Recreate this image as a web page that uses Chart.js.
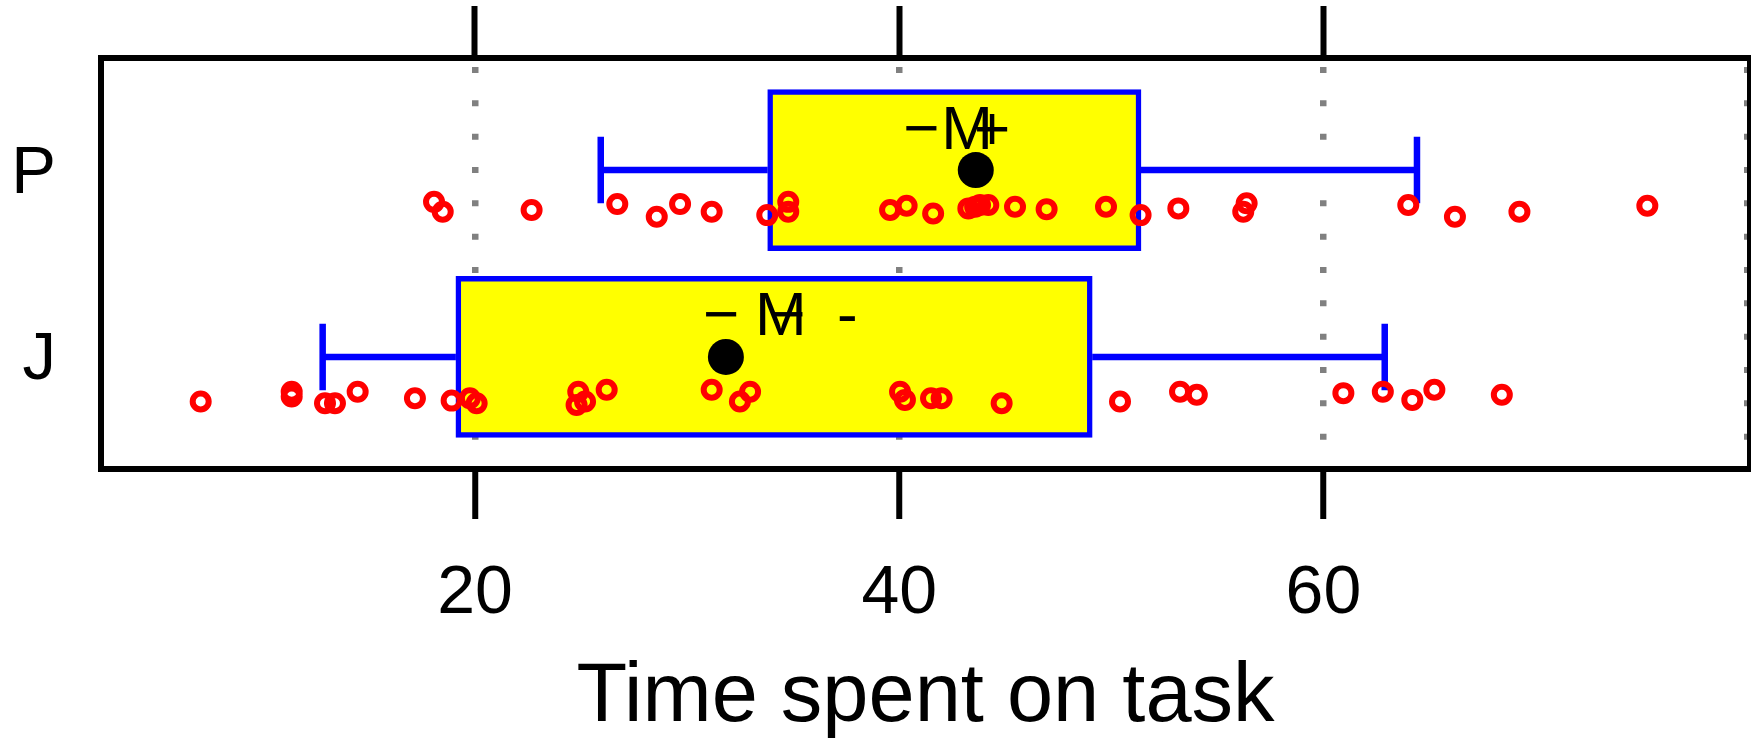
<!DOCTYPE html>
<html>
<head>
<meta charset="utf-8">
<script src="https://cdn.jsdelivr.net/npm/chart.js@4.4.0/dist/chart.umd.min.js"></script>
<style>
  html, body { margin: 0; padding: 0; background: #fff; }
</style>
</head>
<body>
<canvas id="timeBox" width="1751" height="744"></canvas>
<script>
// groups on the y axis: J = 1, P = 2
const groupNames = ['J', 'P'];
const groupPos = [1, 2];
const whiskLow = [12.82, 25.93];
const q1 = [19.1, 33.8];
const q3 = [49.1, 51.4];
const whiskHigh = [62.89, 64.41];
const means = [31.83, 43.61];

// raw observations (x = time, y = jittered row position)
const timesJ = [7.07, 11.36, 11.36, 12.93, 13.4, 14.47, 17.17, 18.9, 19.76, 20.08,
  24.87, 24.79, 25.19, 26.21, 31.16, 32.97, 32.49, 40.04, 40.27, 41.5,
  42.0, 44.83, 50.41, 53.24, 54.03, 60.94, 62.8, 64.19, 65.23, 68.41];
const jitterJ = [0.761, 0.814, 0.788, 0.752, 0.752, 0.814, 0.779, 0.766, 0.779, 0.752,
  0.814, 0.743, 0.761, 0.824, 0.824, 0.814, 0.761, 0.814, 0.770, 0.779,
  0.779, 0.752, 0.761, 0.814, 0.797, 0.806, 0.814, 0.770, 0.824, 0.797];
const timesP = [18.07, 18.48, 22.67, 26.71, 28.57, 29.67, 31.16, 33.78, 34.77, 34.77,
  39.57, 40.35, 41.6, 43.26, 43.58, 43.81, 44.2, 45.46, 46.95, 49.75,
  51.38, 53.16, 56.38, 56.22, 64.0, 66.2, 69.24, 75.27];
const jitterP = [1.830, 1.777, 1.786, 1.818, 1.750, 1.818, 1.777, 1.759, 1.830, 1.777,
  1.786, 1.809, 1.768, 1.795, 1.804, 1.813, 1.813, 1.804, 1.791, 1.804,
  1.759, 1.795, 1.822, 1.777, 1.813, 1.750, 1.777, 1.809];

// the "-M+" marks above each box
const marksJ = ['\u2212', 'M', '\u2212', '-'];
const marksJx = [31.6, 34.42, 34.73, 37.56];
const marksP = ['\u2212', 'M', '+'];
const marksPx = [41.05, 43.2, 44.38];

const xTicks = [20, 40, 60, 80];
const topTicks = [20, 40, 60];

const FONT = '"Liberation Sans", Arial, sans-serif';
const capHalf = 0.178;
const markLift = 0.207;

// whisker segments, null points break the line
const whiskerData = [];
groupPos.forEach((g, i) => {
  whiskerData.push({x: whiskLow[i], y: g}, {x: q1[i], y: g}, {x: null, y: null});
  whiskerData.push({x: q3[i], y: g}, {x: whiskHigh[i], y: g}, {x: null, y: null});
  whiskerData.push({x: whiskLow[i], y: g - capHalf}, {x: whiskLow[i], y: g + capHalf}, {x: null, y: null});
  whiskerData.push({x: whiskHigh[i], y: g - capHalf}, {x: whiskHigh[i], y: g + capHalf}, {x: null, y: null});
});

// fixed axis sizes, and no extra label padding around the plot
function fixSize(size, isWidth) {
  return ax => {
    if (isWidth) ax.width = size; else ax.height = size;
    ax.paddingLeft = ax.paddingRight = ax.paddingTop = ax.paddingBottom = 0;
  };
}

const extras = {
  id: 'extras',
  afterDatasetsDraw(chart) {
    const {ctx, chartArea: a, scales: {x, y}} = chart;
    ctx.save();
    ctx.fillStyle = '#000';
    ctx.font = '62px ' + FONT;
    ctx.textAlign = 'center';
    ctx.textBaseline = 'middle';
    marksJ.forEach((t, i) => ctx.fillText(t, x.getPixelForValue(marksJx[i]), y.getPixelForValue(1 + markLift)));
    marksP.forEach((t, i) => ctx.fillText(t, x.getPixelForValue(marksPx[i]), y.getPixelForValue(2 + markLift)));
    ctx.lineWidth = 6;
    ctx.strokeStyle = '#000';
    ctx.strokeRect(a.left, a.top, a.right - a.left, a.bottom - a.top);
    ctx.restore();
  }
};

new Chart(document.getElementById('timeBox'), {
  type: 'scatter',
  data: {
    datasets: [
      {
        type: 'scatter',
        data: timesP.map((v, i) => ({x: v, y: jitterP[i]})).concat(timesJ.map((v, i) => ({x: v, y: jitterJ[i]}))),
        pointRadius: 8,
        borderWidth: 6,
        pointBorderWidth: 6,
        borderColor: '#ff0000',
        backgroundColor: 'rgba(0,0,0,0)',
        order: 0
      },
      {
        type: 'scatter',
        data: means.map((v, i) => ({x: v, y: groupPos[i]})),
        pointRadius: 18,
        borderWidth: 0,
        backgroundColor: '#000',
        borderColor: '#000',
        order: 1
      },
      {
        type: 'line',
        data: whiskerData,
        borderColor: '#0000ff',
        borderWidth: 6.5,
        pointRadius: 0,
        fill: false,
        spanGaps: false,
        order: 2
      },
      {
        type: 'bar',
        indexAxis: 'y',
        data: groupPos.map((g, i) => ({x: [q1[i], q3[i]], y: g})),
        backgroundColor: '#ffff00',
        borderColor: '#0000ff',
        borderWidth: 5.5,
        borderSkipped: false,
        barThickness: 161,
        order: 3
      }
    ]
  },
  options: {
    responsive: false,
    animation: false,
    events: [],
    layout: {autoPadding: false, padding: {top: 0, right: 1, bottom: 0, left: 0}},
    plugins: {legend: {display: false}, tooltip: {enabled: false}},
    scales: {
      x: {
        type: 'linear',
        position: 'bottom',
        min: 2.37,
        max: 80.11,
        offset: false,
        beginAtZero: false,
        afterBuildTicks: ax => { ax.ticks = xTicks.map(v => ({value: v})); },
        afterFit: fixSize(275, false),
        grid: {
          offset: false,
          color: '#808080',
          lineWidth: 6.5,
          tickLength: 50,
          tickWidth: 6,
          tickColor: c => (c.tick && c.tick.value === 80 ? 'rgba(0,0,0,0)' : '#000')
        },
        border: {display: false, dash: [6, 27.33], dashOffset: 24.33},
        ticks: {
          color: '#000',
          padding: 34,
          font: {family: FONT, size: 68},
          callback: v => (v === 80 ? '' : String(v))
        },
        title: {
          display: true,
          text: 'Time spent on task',
          color: '#000',
          font: {family: FONT, size: 83, lineHeight: 1.1},
          padding: 0
        }
      },
      x2: {
        type: 'linear',
        position: 'top',
        min: 2.37,
        max: 80.11,
        offset: false,
        afterBuildTicks: ax => { ax.ticks = topTicks.map(v => ({value: v})); },
        afterFit: fixSize(58, false),
        grid: {drawOnChartArea: false, tickLength: 52, tickWidth: 6, tickColor: '#000'},
        border: {display: false},
        ticks: {display: false}
      },
      y: {
        type: 'linear',
        position: 'left',
        min: 0.4,
        max: 2.6,
        offset: false,
        afterBuildTicks: ax => { ax.ticks = groupPos.map(v => ({value: v})); },
        afterFit: fixSize(101, true),
        grid: {display: false, drawTicks: false, offset: false},
        border: {display: false},
        ticks: {
          color: '#000',
          padding: 45,
          labelOffset: 4,
          font: {family: FONT, size: 67},
          callback: v => groupNames[groupPos.indexOf(v)]
        }
      }
    }
  },
  plugins: [extras]
});
</script>
</body>
</html>
